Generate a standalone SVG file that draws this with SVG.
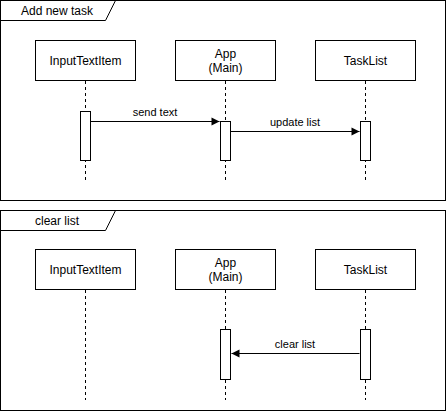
<svg xmlns="http://www.w3.org/2000/svg" width="446" height="413" viewBox="0 0 446 413">
<style>
.box{fill:#fff;stroke:#000;stroke-width:1}
.frame{fill:none;stroke:#000;stroke-width:1}
.life{stroke:#000;stroke-width:1;stroke-dasharray:3,3;fill:none}
.msg{stroke:#000;stroke-width:1;fill:none}
text{font-family:"Liberation Sans",Arial,sans-serif;fill:#000}
.lbl{font-size:12px;text-anchor:middle}
.mlbl{font-size:11px;text-anchor:middle}
</style>
<defs>
<marker id="ah" markerWidth="10" markerHeight="10" refX="9" refY="5" orient="auto" markerUnits="userSpaceOnUse">
<path d="M1,1 L9,5 L1,9 Z" fill="#000"/>
</marker>
</defs>
<rect width="446" height="413" fill="#fff"/>
<g id="frame1">
<rect class="frame" x="0.5" y="0.5" width="445" height="200"/>
<path class="frame" d="M0.5,20.5 L105.5,20.5 L115.5,0.5"/>
<text class="lbl" x="57" y="15">Add new task</text>
</g>
<g id="frame2">
<rect class="frame" x="0.5" y="210.5" width="445" height="200"/>
<path class="frame" d="M0.5,230.5 L105.5,230.5 L115.5,210.5"/>
<text class="lbl" x="57" y="225">clear list</text>
</g>
<g id="lifelines">
<path class="life" d="M85.5,81 V181 M225.5,81 V181 M365.5,81 V181"/>
<path class="life" d="M85.5,290 V400 M225.5,290 V400 M365.5,290 V400"/>
</g>
<g id="input1"><rect class="box" x="35.5" y="40.5" width="100" height="40"/><text class="lbl" x="85.5" y="65">InputTextItem</text></g>
<g id="app1"><rect class="box" x="175.5" y="40.5" width="100" height="40"/><text class="lbl" x="225.5" y="58">App</text><text class="lbl" x="225.5" y="72">(Main)</text></g>
<g id="tasklist1"><rect class="box" x="315.5" y="40.5" width="100" height="40"/><text class="lbl" x="365.5" y="65">TaskList</text></g>
<g id="input2"><rect class="box" x="35.5" y="249.5" width="100" height="40"/><text class="lbl" x="85.5" y="274">InputTextItem</text></g>
<g id="app2"><rect class="box" x="175.5" y="249.5" width="100" height="40"/><text class="lbl" x="225.5" y="267">App</text><text class="lbl" x="225.5" y="281">(Main)</text></g>
<g id="tasklist2"><rect class="box" x="315.5" y="249.5" width="100" height="40"/><text class="lbl" x="365.5" y="274">TaskList</text></g>
<g id="activations">
<rect class="box" x="80.5" y="111.5" width="10" height="49"/>
<rect class="box" x="220.5" y="121.5" width="10" height="39"/>
<rect class="box" x="360.5" y="121.5" width="10" height="39"/>
<rect class="box" x="220.5" y="329.5" width="10" height="50"/>
<rect class="box" x="360.5" y="329.5" width="10" height="50"/>
</g>
<g id="connectors">
<path class="msg" d="M90.5,121.5 H219.5" marker-end="url(#ah)"/>
<text class="mlbl" x="155" y="116">send text</text>
<path class="msg" d="M230.5,131.5 H359.5" marker-end="url(#ah)"/>
<text class="mlbl" x="295" y="126">update list</text>
<path class="msg" d="M359.5,353.5 H231.5" marker-end="url(#ah)"/>
<text class="mlbl" x="295" y="348">clear list</text>
</g>
</svg>
